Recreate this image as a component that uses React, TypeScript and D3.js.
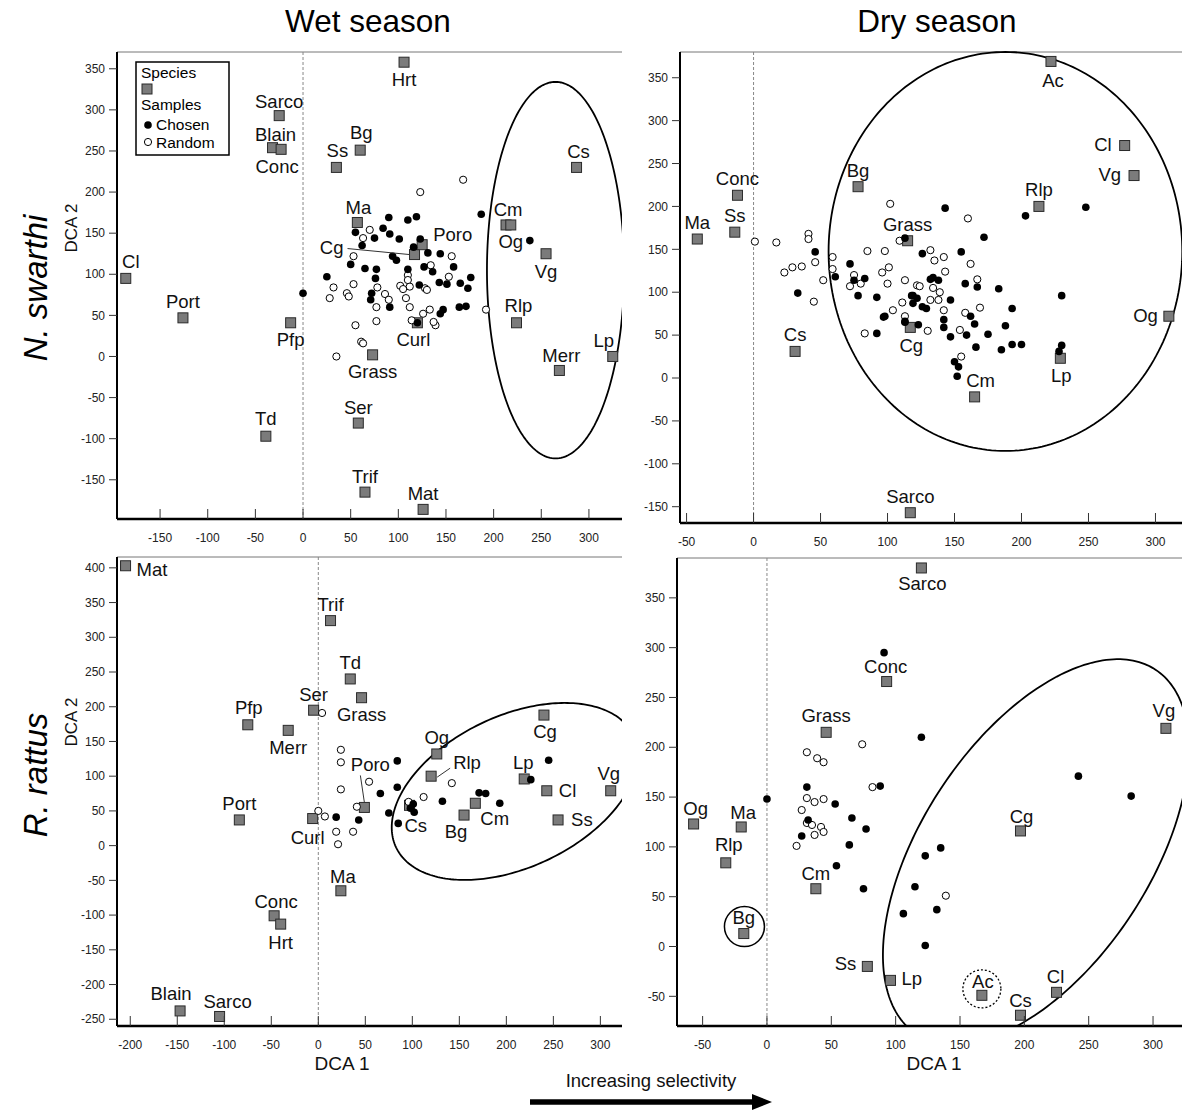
import React from 'react';
import * as d3 from 'd3';

type Pt = [number, number];
type Sp = [string, number, number];
type Lab = [number, number, string];

// ---- Wet season, N. swarthi ----
const WET_NS_SPECIES: Sp[] = [
  ['Sarco', -25, 293], ['Blain', -32, 254], ['Conc', -23, 252], ['Ss', 35, 230], ['Bg', 60, 251],
  ['Ma', 57, 163], ['Hrt', 106, 358], ['Cl', -186, 95], ['Cg', 117, 124], ['Poro', 125, 136],
  ['Cm', 213, 160], ['Og', 218, 160], ['Vg', 255, 125], ['Cs', 287, 230], ['Rlp', 224, 41],
  ['Merr', 269, -17], ['Lp', 325, 0], ['Curl', 120, 41], ['Grass', 73, 2], ['Port', -126, 47],
  ['Pfp', -13, 41], ['Td', -39, -97], ['Ser', 58, -81], ['Trif', 65, -165], ['Mat', 126, -186],
];
const WET_NS_CHOSEN: Pt[] = [
  [187, 173], [238, 141], [90, 169], [110, 166], [119, 170], [84, 156], [91, 149], [101, 143], [55, 151],
  [75, 144], [62, 135], [123, 143], [116, 133], [131, 126], [144, 125], [94, 122], [98, 117], [50, 112],
  [65, 107], [77, 106], [110, 106], [127, 109], [136, 103], [158, 109], [25, 97], [76, 95], [122, 87],
  [143, 90], [151, 88], [165, 89], [176, 96], [173, 83], [72, 77], [71, 69], [91, 60], [147, 57],
  [144, 52], [164, 60], [171, 61], [120, 41], [0, 77],
];
const WET_NS_RANDOM: Pt[] = [
  [168, 215], [123, 200], [70, 154], [63, 144], [53, 122], [156, 122], [134, 111], [110, 99], [153, 97],
  [32, 84], [53, 88], [46, 77], [48, 73], [28, 71], [78, 84], [86, 76], [90, 69], [102, 86], [105, 82],
  [112, 85], [128, 83], [130, 81], [108, 71], [112, 60], [77, 60], [77, 43], [126, 52], [133, 57],
  [139, 38], [137, 42], [114, 44], [55, 38], [61, 18], [63, 16], [35, 0], [192, 57], [110, 93],
];

// ---- Dry season, N. swarthi ----
const DRY_NS_SPECIES: Sp[] = [
  ['Ac', 222, 369], ['Cl', 277, 271], ['Vg', 284, 236], ['Rlp', 213, 200], ['Og', 310, 72],
  ['Lp', 229, 23], ['Cm', 165, -22], ['Cg', 117, 59], ['Grass', 115, 160], ['Bg', 78, 223],
  ['Conc', -12, 213], ['Ss', -14, 170], ['Ma', -42, 162], ['Cs', 31, 31], ['Sarco', 117, -157],
];
const DRY_NS_CHOSEN: Pt[] = [
  [46, 147], [33, 99], [61, 118], [72, 133], [75, 114], [83, 116], [78, 96], [92, 94], [97, 71], [92, 52],
  [113, 163], [119, 96], [119, 87], [113, 65], [143, 198], [203, 189], [248, 199], [172, 164], [155, 147],
  [126, 145], [134, 117], [138, 114], [132, 115], [158, 110], [167, 106], [183, 104], [230, 96], [118, 96],
  [122, 93], [147, 91], [126, 83], [129, 81], [162, 72], [193, 81], [98, 72], [113, 66], [123, 62],
  [142, 68], [142, 59], [165, 63], [147, 48], [159, 50], [175, 51], [188, 61], [166, 36], [185, 33],
  [193, 39], [200, 39], [230, 38], [228, 31], [150, 19], [153, 13], [152, 2],
];
const DRY_NS_RANDOM: Pt[] = [
  [1, 159], [17, 158], [41, 168], [41, 162], [46, 135], [23, 123], [29, 129], [36, 130], [52, 114],
  [45, 89], [59, 141], [59, 127], [85, 148], [98, 148], [102, 203], [101, 129], [96, 123], [75, 120],
  [72, 107], [80, 110], [100, 110], [113, 114], [122, 108], [111, 88], [104, 79], [113, 72], [83, 52],
  [109, 160], [160, 186], [132, 149], [142, 141], [135, 137], [162, 133], [143, 124], [167, 115],
  [124, 107], [134, 105], [139, 100], [138, 91], [132, 91], [169, 82], [142, 79], [158, 76], [130, 55],
  [154, 56], [155, 25],
];

// ---- Wet season, R. rattus ----
const WET_RR_SPECIES: Sp[] = [
  ['Mat', -205, 403], ['Trif', 13, 324], ['Td', 34, 240], ['Grass', 46, 213], ['Ser', -5, 195],
  ['Pfp', -75, 174], ['Merr', -32, 166], ['Port', -84, 37], ['Curl', -6, 39], ['Poro', 49, 55],
  ['Og', 126, 132], ['Rlp', 120, 100], ['Cg', 240, 188], ['Lp', 219, 96], ['Cl', 243, 79],
  ['Vg', 311, 79], ['Ss', 255, 37], ['Cm', 167, 61], ['Bg', 155, 44], ['Cs', 97, 58],
  ['Ma', 24, -65], ['Conc', -47, -101], ['Hrt', -40, -113], ['Blain', -147, -238], ['Sarco', -105, -246],
];
const WET_RR_CHOSEN: Pt[] = [
  [84, 122], [84, 84], [66, 75], [75, 47], [85, 32], [43, 37], [19, 41], [101, 60], [102, 48], [98, 54],
  [132, 64], [171, 76], [178, 75], [193, 61], [226, 95], [245, 123],
];
const WET_RR_RANDOM: Pt[] = [
  [24, 138], [24, 120], [24, 81], [54, 92], [41, 56], [0, 50], [7, 42], [19, 20], [37, 20], [21, 2],
  [112, 70], [142, 90], [4, 191], [96, 63],
];

// ---- Dry season, R. rattus ----
const DRY_RR_SPECIES: Sp[] = [
  ['Sarco', 120, 380], ['Conc', 93, 266], ['Grass', 46, 215], ['Vg', 310, 219], ['Cg', 197, 116],
  ['Og', -57, 123], ['Ma', -20, 120], ['Rlp', -32, 84], ['Cm', 38, 58], ['Bg', -18, 13],
  ['Ss', 78, -20], ['Lp', 96, -34], ['Ac', 167, -49], ['Cs', 197, -69], ['Cl', 225, -46],
];
const DRY_RR_CHOSEN: Pt[] = [
  [91, 295], [120, 210], [242, 171], [283, 151], [31, 160], [0, 148], [53, 143], [66, 129], [77, 118],
  [32, 127], [27, 111], [64, 102], [88, 161], [135, 99], [123, 91], [115, 60], [106, 33], [132, 37],
  [123, 1], [75, 58], [54, 81],
];
const DRY_RR_RANDOM: Pt[] = [
  [31, 195], [39, 189], [44, 185], [74, 203], [82, 160], [31, 149], [37, 145], [44, 148], [27, 137],
  [31, 124], [35, 122], [42, 120], [44, 115], [37, 112], [23, 101], [139, 51],
];

// ellipses: centre + two conjugate semi-axes, in DCA units
const WET_NS_ELLIPSE = { cx: 265, cy: 105, ax: 72, ay: 0, bx: 0, by: 229 };
const DRY_NS_ELLIPSE = { cx: 188, cy: 147.5, ax: 132, ay: 0, bx: 0, by: 232.5 };
const WET_RR_ELLIPSE = { cx: 209, cy: 78, ax: 126.3, ay: 80.5, bx: 34.4, by: -98.8 };
const DRY_RR_ELLIPSE = { cx: 209, cy: 95, ax: 92.9, ay: 182.9, bx: 74.2, by: -62.9 };

// label placement (px offset from the square, text anchor)
const WET_NS_LABELS: Record<string, Lab> = {
  Sarco: [0, -8, 'm'], Blain: [3, -7, 'm'], Conc: [-4, 24, 'm'], Ss: [1, -10, 'm'], Bg: [1, -11, 'm'],
  Ma: [1, -8, 'm'], Hrt: [0, 24, 'm'], Cl: [5, -10, 'm'], Cg: [-71, -1, 'e'], Poro: [11, -4, 's'],
  Cm: [2, -9, 'm'], Og: [0, 23, 'm'], Vg: [0, 24, 'm'], Cs: [2, -9, 'm'], Rlp: [2, -11, 'm'],
  Merr: [2, -8, 'm'], Lp: [-9, -9, 'm'], Curl: [-4, 23, 'm'], Grass: [0, 23, 'm'], Port: [0, -10, 'm'],
  Pfp: [0, 23, 'm'], Td: [0, -11, 'm'], Ser: [0, -9, 'm'], Trif: [0, -9, 'm'], Mat: [0, -9, 'm'],
};
const DRY_NS_LABELS: Record<string, Lab> = {
  Ac: [2, 26, 'm'], Cl: [-13, 5, 'e'], Vg: [-13, 5, 'e'], Rlp: [0, -10, 'm'], Og: [-11, 6, 'e'],
  Lp: [1, 24, 'm'], Cm: [6, -10, 'm'], Cg: [1, 25, 'm'], Grass: [0, -10, 'm'], Bg: [0, -10, 'm'],
  Conc: [0, -10, 'm'], Ss: [0, -10, 'm'], Ma: [0, -10, 'm'], Cs: [0, -10, 'm'], Sarco: [0, -10, 'm'],
};
const WET_RR_LABELS: Record<string, Lab> = {
  Mat: [11, 10, 's'], Trif: [0, -10, 'm'], Td: [0, -10, 'm'], Grass: [0, 23, 'm'], Ser: [0, -9, 'm'],
  Pfp: [1, -11, 'm'], Merr: [0, 24, 'm'], Port: [0, -10, 'm'], Curl: [-5, 25, 'm'], Poro: [6, -36, 'm'],
  Og: [0, -10, 'm'], Rlp: [22, -7, 's'], Cg: [1, 23, 'm'], Lp: [-1, -10, 'm'], Cl: [12, 6, 's'],
  Vg: [-2, -11, 'm'], Ss: [13, 6, 's'], Cm: [5, 22, 's'], Bg: [-8, 23, 'm'], Cs: [-5, 27, 's'],
  Ma: [2, -8, 'm'], Conc: [2, -8, 'm'], Hrt: [0, 25, 'm'], Blain: [-9, -11, 'm'], Sarco: [8, -8, 'm'],
};
const DRY_RR_LABELS: Record<string, Lab> = {
  Sarco: [1, 22, 'm'], Conc: [-1, -9, 'm'], Grass: [0, -10, 'm'], Vg: [-2, -11, 'm'], Cg: [1, -8, 'm'],
  Og: [2, -9, 'm'], Ma: [2, -8, 'm'], Rlp: [3, -12, 'm'], Cm: [0, -9, 'm'], Bg: [0, -10, 'm'],
  Ss: [-11, 4, 'e'], Lp: [11, 5, 's'], Ac: [1, -7, 'm'], Cs: [0, -8, 'm'], Cl: [-1, -9, 'm'],
};
// leader lines: [species, x1, y1, x2, y2] px relative to square
const WET_NS_LEADERS: [string, number, number, number, number][] = [['Cg', -67, -6, -5, 0]];
const WET_RR_LEADERS: [string, number, number, number, number][] = [
  ['Poro', -4, -32, 0, -5], ['Rlp', 6, 1, 19, -8],
];

const FONT = "Arial, 'Liberation Sans', Helvetica, sans-serif";
const TICK_FONT = "'Liberation Sans Narrow', 'Arial Narrow', Arial, sans-serif";
const ANCHOR: Record<string, 'start' | 'middle' | 'end'> = { s: 'start', m: 'middle', e: 'end' };

type Ell = typeof WET_NS_ELLIPSE;

interface PanelProps {
  id: string;
  box: { l: number; t: number; r: number; b: number };
  xDom: [number, number];
  yDom: [number, number];
  xTicks: number[];
  yTicks: number[];
  species: Sp[];
  labels: Record<string, Lab>;
  leaders?: [string, number, number, number, number][];
  chosen: Pt[];
  random: Pt[];
  ellipse: Ell;
  extras?: (x: d3.ScaleLinear<number, number>, y: d3.ScaleLinear<number, number>) => React.ReactNode;
}

function Panel({ id, box, xDom, yDom, xTicks, yTicks, species, labels, leaders = [], chosen, random, ellipse, extras }: PanelProps) {
  const x = d3.scaleLinear().domain(xDom).range([box.l, box.r]);
  const y = d3.scaleLinear().domain(yDom).range([box.b, box.t]);
  const ts = d3.range(0, 2 * Math.PI + 0.01, Math.PI / 120);
  const ellPath = d3.line()(ts.map((t) => [
    x(ellipse.cx + ellipse.ax * Math.cos(t) + ellipse.bx * Math.sin(t)),
    y(ellipse.cy + ellipse.ay * Math.cos(t) + ellipse.by * Math.sin(t)),
  ] as [number, number]));
  const pos = Object.fromEntries(species.map(([n, sx, sy]) => [n, [x(sx), y(sy)]]));

  return (
    <g>
      <defs>
        <clipPath id={`clip-${id}`}>
          <rect x={box.l} y={box.t - 4} width={box.r - box.l} height={box.b - box.t + 4} />
        </clipPath>
      </defs>
      {/* top frame */}
      <line x1={box.l} x2={box.r} y1={box.t} y2={box.t} stroke="#777" strokeWidth={1} />
      {/* zero line */}
      <line x1={x(0)} x2={x(0)} y1={box.t} y2={box.b} stroke="#888" strokeWidth={1} strokeDasharray="3,2" />
      <path d={ellPath + 'Z'} fill="none" stroke="#000" strokeWidth={1.8} clipPath={`url(#clip-${id})`} />
      {extras && extras(x, y)}

      {species.map(([n, sx, sy]) => (
        <rect key={n} x={x(sx) - 5} y={y(sy) - 5} width={10} height={10}
          fill="#7b7b7b" stroke="#2a2a2a" strokeWidth={1} />
      ))}
      {random.map(([px, py], i) => (
        <circle key={'r' + i} cx={x(px)} cy={y(py)} r={3.6} fill="#fff" stroke="#000" strokeWidth={1} />
      ))}
      {chosen.map(([px, py], i) => (
        <circle key={'c' + i} cx={x(px)} cy={y(py)} r={3.8} fill="#000" />
      ))}
      {leaders.map(([n, x1, y1, x2, y2]) => (
        <line key={'l' + n} x1={pos[n][0] + x1} y1={pos[n][1] + y1} x2={pos[n][0] + x2} y2={pos[n][1] + y2}
          stroke="#333" strokeWidth={1} />
      ))}
      {species.map(([n]) => {
        const [dx, dy, a] = labels[n] || [0, -9, 'm'];
        return (
          <text key={'t' + n} x={pos[n][0] + dx} y={pos[n][1] + dy} textAnchor={ANCHOR[a]}
            fontFamily={FONT} fontSize={18.5} fill="#111">{n}</text>
        );
      })}

      {/* axes */}
      <line x1={box.l} x2={box.l} y1={box.t} y2={box.b} stroke="#000" strokeWidth={2} />
      <line x1={box.l} x2={box.r} y1={box.b} y2={box.b} stroke="#000" strokeWidth={2.5} />
      {yTicks.map((v) => (
        <g key={'yt' + v}>
          <line x1={box.l - 8} x2={box.l} y1={y(v)} y2={y(v)} stroke="#333" strokeWidth={1} />
          <text x={box.l - 12} y={y(v)} dy="0.35em" textAnchor="end" fontFamily={TICK_FONT}
            fontSize={12} fill="#222">{v}</text>
        </g>
      ))}
      {xTicks.map((v) => (
        <g key={'xt' + v}>
          <line x1={x(v)} x2={x(v)} y1={box.b - 10} y2={box.b} stroke="#333" strokeWidth={1} />
          <text x={x(v)} y={box.b + 23} textAnchor="middle" fontFamily={TICK_FONT}
            fontSize={12} fill="#222">{v}</text>
        </g>
      ))}
    </g>
  );
}

export default function App() {
  const W = 1182;
  const H = 1113;
  return (
    <svg width={W} height={H} viewBox={`0 0 ${W} ${H}`}
      style={{ position: 'absolute', left: 0, top: 0, background: '#fff', display: 'block' }}>
      <rect x={0} y={0} width={W} height={H} fill="#fff" />

      <text x={368} y={32} textAnchor="middle" fontFamily={FONT} fontSize={31.5} fill="#000">Wet season</text>
      <text x={937} y={32} textAnchor="middle" fontFamily={FONT} fontSize={31.5} fill="#000">Dry season</text>
      <text transform="translate(47,288) rotate(-90)" textAnchor="middle" fontFamily={FONT}
        fontSize={33} fontStyle="italic" fill="#000">N. swarthi</text>
      <text transform="translate(47,775) rotate(-90)" textAnchor="middle" fontFamily={FONT}
        fontSize={33} fontStyle="italic" fill="#000">R. rattus</text>
      <text transform="translate(77,228) rotate(-90)" textAnchor="middle" fontFamily={FONT}
        fontSize={17} fill="#111">DCA 2</text>
      <text transform="translate(77,722) rotate(-90)" textAnchor="middle" fontFamily={FONT}
        fontSize={17} fill="#111">DCA 2</text>

      <Panel id="wns" box={{ l: 117, t: 52, r: 622, b: 519 }} xDom={[-195.2, 334.7]} yDom={[-197.7, 370.4]}
        xTicks={d3.range(-150, 301, 50)} yTicks={d3.range(-150, 351, 50)}
        species={WET_NS_SPECIES} labels={WET_NS_LABELS} leaders={WET_NS_LEADERS}
        chosen={WET_NS_CHOSEN} random={WET_NS_RANDOM} ellipse={WET_NS_ELLIPSE} />
      <Panel id="dns" box={{ l: 680, t: 52, r: 1182, b: 523 }} xDom={[-54.9, 319.8]} yDom={[-169, 380]}
        xTicks={d3.range(-50, 301, 50)} yTicks={d3.range(-150, 351, 50)}
        species={DRY_NS_SPECIES} labels={DRY_NS_LABELS}
        chosen={DRY_NS_CHOSEN} random={DRY_NS_RANDOM} ellipse={DRY_NS_ELLIPSE} />
      <Panel id="wrr" box={{ l: 117, t: 557, r: 622, b: 1026 }} xDom={[-214.1, 323]} yDom={[-259.7, 415.6]}
        xTicks={d3.range(-200, 301, 50)} yTicks={d3.range(-250, 401, 50)}
        species={WET_RR_SPECIES} labels={WET_RR_LABELS} leaders={WET_RR_LEADERS}
        chosen={WET_RR_CHOSEN} random={WET_RR_RANDOM} ellipse={WET_RR_ELLIPSE} />
      <Panel id="drr" box={{ l: 677, t: 558, r: 1182, b: 1026 }} xDom={[-69.9, 322.5]} yDom={[-79.8, 390]}
        xTicks={d3.range(-50, 301, 50)} yTicks={d3.range(-50, 351, 50)}
        species={DRY_RR_SPECIES} labels={DRY_RR_LABELS}
        chosen={DRY_RR_CHOSEN} random={DRY_RR_RANDOM} ellipse={DRY_RR_ELLIPSE}
        extras={(x, y) => (
          <g>
            <circle cx={x(-17.5)} cy={y(20)} r={20} fill="none" stroke="#000" strokeWidth={1.5} />
            <circle cx={x(167)} cy={y(-42.5)} r={19} fill="none" stroke="#000" strokeWidth={1.3} strokeDasharray="2,2" />
          </g>
        )} />

      {/* legend */}
      <g fontFamily={FONT} fontSize={15.5} fill="#000">
        <rect x={136} y={62} width={93} height={93} fill="#fff" stroke="#000" strokeWidth={1.5} />
        <text x={141} y={78}>Species</text>
        <rect x={142} y={84} width={10} height={10} fill="#7b7b7b" stroke="#2a2a2a" />
        <text x={141} y={110}>Samples</text>
        <circle cx={148} cy={125} r={3.8} fill="#000" />
        <text x={156} y={130}>Chosen</text>
        <circle cx={148} cy={142} r={3.6} fill="#fff" stroke="#000" />
        <text x={156} y={148}>Random</text>
      </g>

      <text x={342} y={1070} textAnchor="middle" fontFamily={FONT} fontSize={19} fill="#111">DCA 1</text>
      <text x={934} y={1070} textAnchor="middle" fontFamily={FONT} fontSize={19} fill="#111">DCA 1</text>
      <text x={651} y={1087} textAnchor="middle" fontFamily={FONT} fontSize={18.5} fill="#111">Increasing selectivity</text>
      <line x1={530} x2={756} y1={1102} y2={1102} stroke="#000" strokeWidth={5.5} />
      <path d="M752,1094 L772,1102 L752,1110 Z" fill="#000" />
    </svg>
  );
}
